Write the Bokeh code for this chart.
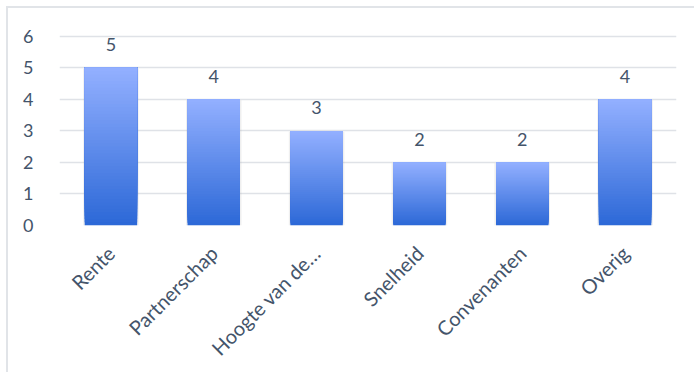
import math
from bokeh.plotting import figure
from bokeh.models import ColumnDataSource, Range1d, FactorRange, InlineStyleSheet
from bokeh.core.properties import value
from bokeh.embed import file_html
from bokeh.resources import INLINE

categories = ["Rente", "Partnerschap", "Hoogte van de…", "Snelheid", "Convenanten", "Overig"]
counts = [5, 4, 3, 2, 2, 4]
y_ticks = [0, 1, 2, 3, 4, 5, 6]

FONT = "Lato"
TEXT_COLOR = "#44546A"
GRID_COLOR = "#DFE2E7"
BORDER_COLOR = "#E1E4E8"
TOP_RGB = (146, 175, 255)
BOTTOM_RGB = (45, 105, 215)
BAR_W = 0.51
N = 48

p = figure(
    width=688, height=366,
    x_range=FactorRange(*categories, range_padding=0),
    y_range=Range1d(0, 6.5),
    output_backend="svg", toolbar_location=None,
    min_border_left=51, min_border_right=20, min_border_top=12, min_border_bottom=149,
)
p.margin = (6, 0, 0, 6)
p.stylesheets = [InlineStyleSheet(css=":host { border-left: 2px solid %s; border-top: 2px solid %s; }" % (BORDER_COLOR, BORDER_COLOR))]
p.background_fill_color = "white"
p.border_fill_color = "white"
p.outline_line_color = None

# soft shadow behind each bar
shadow = ColumnDataSource(dict(x=categories, top=[v - 0.03 for v in counts]))
p.vbar(x="x", top="top", bottom=-0.06, width=BAR_W + 0.03, source=shadow,
       fill_color="#9a9a9a", fill_alpha=0.16, line_color=None)

# gradient bars built as stacked slices of each bar's own value
xs, bots, tops, cols = [], [], [], []
for cat, v in zip(categories, counts):
    for k in range(N):
        t = k / (N - 1)
        r = round(BOTTOM_RGB[0] + (TOP_RGB[0] - BOTTOM_RGB[0]) * t)
        g = round(BOTTOM_RGB[1] + (TOP_RGB[1] - BOTTOM_RGB[1]) * t)
        b = round(BOTTOM_RGB[2] + (TOP_RGB[2] - BOTTOM_RGB[2]) * t)
        xs.append(cat)
        bots.append(v * k / N)
        tops.append(v)
        cols.append("#%02x%02x%02x" % (r, g, b))
src = ColumnDataSource(dict(x=xs, bottom=bots, top=tops, color=cols))
p.vbar(x="x", bottom="bottom", top="top", width=BAR_W, fill_color="color", line_color=None, source=src)

# data labels
lab = ColumnDataSource(dict(x=categories, y=counts, t=[str(v) for v in counts]))
p.text(x="x", y="y", text="t", source=lab, text_align="center", text_baseline="alphabetic",
       y_offset=-23, text_font=value(FONT), text_font_size="18px", text_color=TEXT_COLOR)

# axes
p.yaxis.ticker = y_ticks
p.yaxis.axis_line_color = None
p.yaxis.major_tick_line_color = None
p.yaxis.minor_tick_line_color = None
p.yaxis.major_label_standoff = 20
p.yaxis.major_label_text_font = FONT
p.yaxis.major_label_text_font_size = "18px"
p.yaxis.major_label_text_color = TEXT_COLOR

p.xaxis.axis_line_color = None
p.xaxis.major_tick_line_color = None
p.xaxis.major_label_orientation = math.pi / 4
p.xaxis.major_label_standoff = 18
p.xaxis.major_label_text_font = FONT
p.xaxis.major_label_text_font_size = "20px"
p.xaxis.major_label_text_color = TEXT_COLOR

p.xgrid.grid_line_color = None
p.ygrid.grid_line_color = GRID_COLOR
p.ygrid.grid_line_width = 1.5

open("out.html", "w").write(file_html(p, INLINE))
